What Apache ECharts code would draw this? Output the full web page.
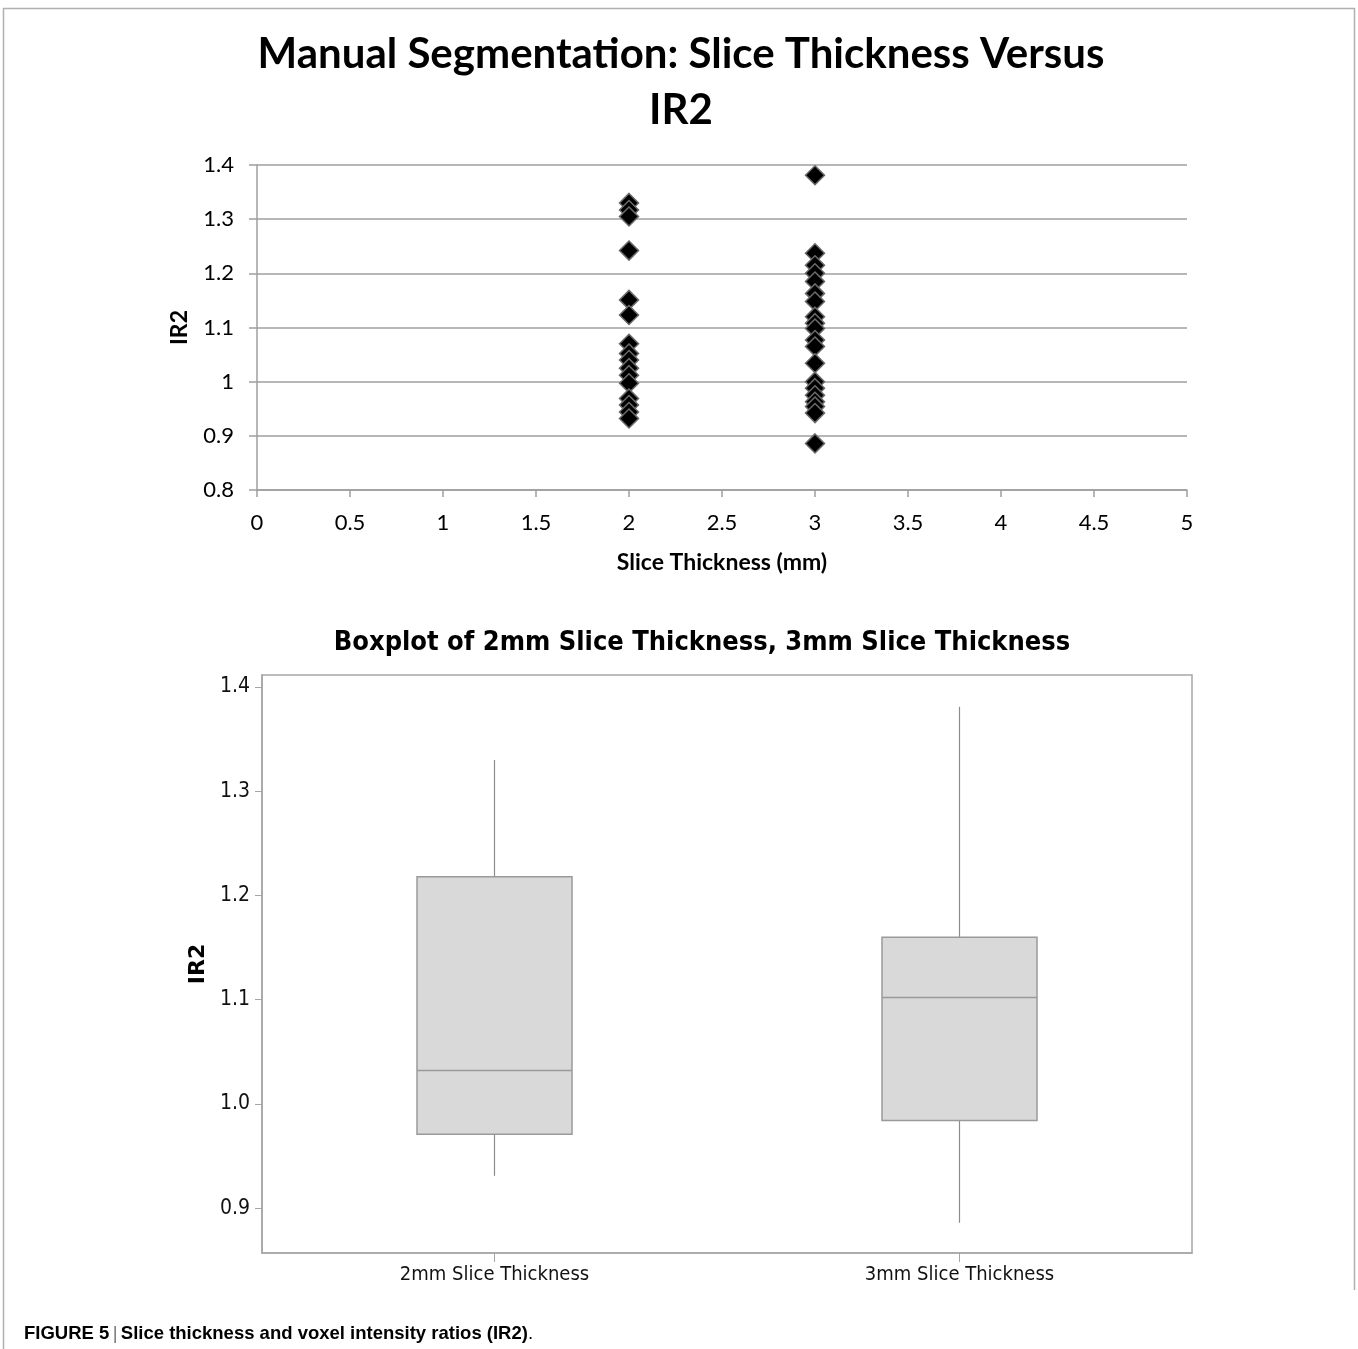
<!DOCTYPE html>
<html>
<head>
<meta charset="utf-8">
<title>Slice thickness and IR2</title>
<script src="https://cdn.jsdelivr.net/npm/echarts@6/dist/echarts.min.js"></script>
<style>
  html, body { margin: 0; padding: 0; background: #fff; }
  #chart { width: 1358px; height: 1349px; }
</style>
</head>
<body>
<div id="chart"></div>
<script>
// IR2 per case, grouped by slice thickness (mm)
const sliceThickness = [2, 3];
const ir2Thin = [1.330, 1.317, 1.305, 1.242, 1.151, 1.123, 1.070, 1.052, 1.040, 1.025, 1.012, 0.997, 0.969, 0.957, 0.944, 0.932];
const ir2Thick = [1.381, 1.237, 1.215, 1.200, 1.185, 1.163, 1.148, 1.120, 1.108, 1.098, 1.077, 1.065, 1.034, 1.000, 0.988, 0.975, 0.963, 0.954, 0.942, 0.886];

// Boxplot summary: [min, Q1, median, Q3, max]
const boxCategories = ['2mm Slice Thickness', '3mm Slice Thickness'];
const boxStats = [
  [0.931, 0.971, 1.032, 1.218, 1.330],
  [0.886, 0.984, 1.102, 1.160, 1.381]
];
const boxTicks = [0.9, 1.0, 1.1, 1.2, 1.3, 1.4];

const GRID_GREY = '#9f9f9f';
const calibriLike = 'Lato, "Open Sans", sans-serif';
const tahomaLike = '"DejaVu Sans Condensed", "DejaVu Sans", Verdana, sans-serif';

const scatterData = [];
ir2Thin.forEach(v => scatterData.push([sliceThickness[0], v]));
ir2Thick.forEach(v => scatterData.push([sliceThickness[1], v]));

const boxData = boxStats.map((s, i) => [i].concat(s));

function renderBox(params, api) {
  const cat = api.value(0);
  const pMin = api.coord([cat, api.value(1)]);
  const pQ1 = api.coord([cat, api.value(2)]);
  const pMed = api.coord([cat, api.value(3)]);
  const pQ3 = api.coord([cat, api.value(4)]);
  const pMax = api.coord([cat, api.value(5)]);
  const w = api.size([1, 0])[0] / 3;
  const x = pMed[0];
  const lineStyle = { stroke: '#8c8c8c', lineWidth: 1.2 };
  return {
    type: 'group',
    children: [
      { type: 'line', shape: { x1: x, y1: pMax[1], x2: x, y2: pQ3[1] }, style: lineStyle },
      { type: 'line', shape: { x1: x, y1: pQ1[1], x2: x, y2: pMin[1] }, style: lineStyle },
      { type: 'rect', shape: { x: x - w / 2, y: pQ3[1], width: w, height: pQ1[1] - pQ3[1] },
        style: { fill: '#d9d9d9', stroke: '#9a9a9a', lineWidth: 1.5 } },
      { type: 'line', shape: { x1: x - w / 2, y1: pMed[1], x2: x + w / 2, y2: pMed[1] },
        style: { stroke: '#9a9a9a', lineWidth: 1.5 } }
    ]
  };
}

const chart = echarts.init(document.getElementById('chart'), null, { renderer: 'canvas' });

chart.setOption({
  backgroundColor: '#fff',
  animation: false,
  title: [
    {
      text: 'Manual Segmentation: Slice Thickness Versus\nIR2',
      left: 676, top: 21, textAlign: 'center',
      textStyle: { fontFamily: calibriLike, fontWeight: 'bold', fontSize: 42, lineHeight: 56, color: '#000' }
    },
    {
      text: 'Boxplot of 2mm Slice Thickness, 3mm Slice Thickness',
      left: 697, top: 624, textAlign: 'center',
      textStyle: { fontFamily: tahomaLike, fontWeight: 'bold', fontSize: 27, color: '#000' }
    }
  ],
  grid: [
    { left: 257, top: 165, width: 930, height: 325 },
    { left: 262, top: 675, width: 930, height: 578, show: true, borderColor: '#a6a6a6', borderWidth: 1.5, backgroundColor: 'transparent' }
  ],
  xAxis: [
    {
      gridIndex: 0, type: 'value', min: 0, max: 5, interval: 0.5,
      name: 'Slice Thickness (mm)', nameLocation: 'middle', nameGap: 61,
      nameTextStyle: { fontFamily: calibriLike, fontWeight: 'bold', fontSize: 23, color: '#000' },
      axisLine: { show: true, lineStyle: { color: GRID_GREY, width: 1.5 } },
      axisTick: { show: true, length: 7, lineStyle: { color: GRID_GREY, width: 1.5 } },
      axisLabel: { margin: 22, fontFamily: calibriLike, fontSize: 22, color: '#000' },
      splitLine: { show: false }
    },
    {
      gridIndex: 1, type: 'category', data: boxCategories, boundaryGap: true,
      axisLine: { show: true, lineStyle: { color: '#a6a6a6', width: 1.5 } },
      axisTick: { show: true, alignWithLabel: true, length: 9, lineStyle: { color: '#a6a6a6', width: 1 } },
      axisLabel: { margin: 12, fontFamily: tahomaLike, fontSize: 20, color: '#111' },
      splitLine: { show: false }
    }
  ],
  yAxis: [
    {
      gridIndex: 0, type: 'value', min: 0.8, max: 1.4, interval: 0.1,
      name: 'IR2', nameLocation: 'middle', nameGap: 66, nameRotate: 90,
      nameTextStyle: { fontFamily: calibriLike, fontWeight: 'bold', fontSize: 23, color: '#000' },
      axisLine: { show: true, lineStyle: { color: GRID_GREY, width: 1.5 } },
      axisTick: { show: true, length: 8, lineStyle: { color: GRID_GREY, width: 1.5 } },
      axisLabel: { margin: 23, fontFamily: calibriLike, fontSize: 22, color: '#000',
        formatter: v => String(parseFloat(v.toFixed(1))) },
      splitLine: { show: true, lineStyle: { color: GRID_GREY, width: 1.5 } }
    },
    {
      gridIndex: 1, type: 'value', min: 0.857, max: 1.4115,
      name: 'IR2', nameLocation: 'middle', nameGap: 53, nameRotate: 90,
      nameTextStyle: { fontFamily: '"DejaVu Sans", Verdana, sans-serif', fontWeight: 'bold', fontSize: 22, color: '#000' },
      axisLine: { show: true, lineStyle: { color: '#a6a6a6', width: 1.5 } },
      axisTick: { show: true, length: 7, customValues: boxTicks, lineStyle: { color: '#a6a6a6', width: 1 } },
      axisLabel: { margin: 12, customValues: boxTicks, fontFamily: tahomaLike, fontSize: 21, color: '#111',
        formatter: v => Number(v).toFixed(1) },
      splitLine: { show: false }
    }
  ],
  series: [
    {
      type: 'scatter', xAxisIndex: 0, yAxisIndex: 0,
      data: scatterData,
      symbol: 'diamond', symbolSize: 19,
      itemStyle: { color: '#000', borderColor: '#6a6a6a', borderWidth: 1.5, opacity: 1 }
    },
    {
      type: 'custom', xAxisIndex: 1, yAxisIndex: 1,
      data: boxData,
      encode: { x: 0, y: [1, 2, 3, 4, 5] },
      renderItem: renderBox
    }
  ],
  graphic: [
    { type: 'line', shape: { x1: 3, y1: 8.5, x2: 1355, y2: 8.5 }, style: { stroke: '#b0b0b0', lineWidth: 1.5 } },
    { type: 'line', shape: { x1: 3.5, y1: 8, x2: 3.5, y2: 1349 }, style: { stroke: '#b0b0b0', lineWidth: 1.5 } },
    { type: 'line', shape: { x1: 1354.5, y1: 8, x2: 1354.5, y2: 1290 }, style: { stroke: '#b0b0b0', lineWidth: 1.5 } },
    {
      type: 'text', left: 24, top: 1324,
      style: {
        text: '{b|FIGURE 5} {s||} {b|Slice thickness and voxel intensity ratios (IR2)}{n|.}',
        rich: {
          b: { fontFamily: '"Liberation Sans Narrow", "Liberation Sans", Arial, sans-serif', fontWeight: 'bold', fontSize: 18.5, fill: '#000' },
          s: { fontFamily: '"Liberation Sans", Arial, sans-serif', fontSize: 18.5, fill: '#777' },
          n: { fontFamily: '"Liberation Sans Narrow", "Liberation Sans", Arial, sans-serif', fontSize: 18.5, fill: '#000' }
        }
      }
    }
  ]
});
</script>
</body>
</html>
